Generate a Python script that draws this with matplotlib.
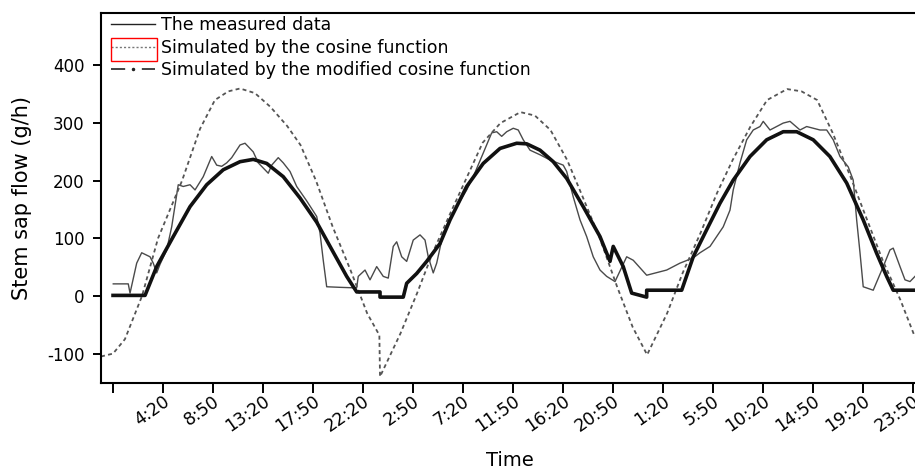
import numpy as np
from matplotlib import pyplot as plt
from matplotlib.lines import Line2D
from matplotlib.patches import Rectangle

plt.rcParams['axes.unicode_minus'] = False

# hours counted from 23:50 of the day before the first label
meas_h = [0.05, 1.40, 1.56, 2.16, 2.61, 3.36, 3.65, 3.96, 4.26, 4.86,
          5.31, 5.90, 6.35, 6.96, 7.41, 8.15, 8.91, 9.36, 9.81, 10.26,
          10.71, 11.46, 11.91, 12.65, 13.10, 13.55, 14.00, 14.31, 14.90, 15.35,
          15.96, 16.56, 17.46, 18.36, 18.66, 18.95, 19.26, 20.46, 21.96, 22.10,
          22.71, 23.16, 23.76, 24.35, 24.80, 25.25, 25.56, 26.01, 26.46, 27.05,
          27.66, 28.11, 28.40, 28.85, 29.16, 29.75, 30.36, 30.96, 31.86, 32.45,
          33.35, 34.11, 34.56, 35.01, 35.46, 36.05, 36.50, 36.95, 37.56, 38.46,
          39.36, 40.55, 40.86, 41.45, 42.06, 42.66, 43.25, 43.86, 44.46, 45.21,
          46.26, 46.85, 48.06, 49.86, 51.06, 52.25, 52.86, 53.76, 54.95, 55.56,
          55.85, 56.46, 57.06, 57.65, 58.26, 58.55, 59.16, 60.35, 60.96, 61.86,
          62.46, 63.66, 64.26, 64.85, 65.46, 66.20, 66.65, 66.96, 67.26, 67.55,
          68.45, 69.35, 69.96, 70.25, 70.86, 71.31, 71.76, 72.21]
meas_v = [21, 21, 5, 57, 75, 68, 57, 40, 55, 80,
          120, 193, 190, 193, 184, 207, 242, 227, 225, 231,
          240, 262, 265, 250, 231, 222, 213, 227, 240, 231,
          216, 190, 165, 138, 109, 62, 16, 15, 14, 34,
          45, 28, 51, 34, 31, 86, 94, 68, 60, 97,
          106, 97, 68, 40, 57, 109, 135, 155, 184, 207,
          248, 283, 285, 277, 285, 291, 288, 271, 253, 245,
          236, 227, 216, 172, 132, 103, 68, 45, 34, 25,
          68, 62, 36, 45, 57, 66, 75, 86, 120, 149,
          184, 231, 271, 288, 294, 303, 288, 300, 303, 288,
          294, 288, 288, 271, 242, 224, 201, 132, 75, 16,
          10, 51, 80, 83, 51, 28, 25, 34]

cos_h = [-1.05, 0.03, 1.1, 2.64, 4.08, 6.24, 7.86, 9.2, 10.4, 11.46,
         12.8, 14.2, 15.7, 16.9, 18.3, 19.8, 21.4, 22.3, 22.9, 24.0,
         24.06, 25.9, 27.4, 28.8, 30.4, 31.9, 33.3, 34.9, 36.7, 38.0,
         39.4, 40.9, 42.3, 43.9, 45.4, 46.8, 48.1, 49.9, 51.3, 52.9,
         54.4, 55.8, 57.4, 58.9, 60.7, 62.0, 63.4, 64.8, 66.4, 67.9,
         69.3, 70.9, 72.2]
cos_v = [-105, -100, -75, 0, 100, 200, 290, 340, 355, 360,
         352, 328, 295, 262, 200, 120, 45, 0, -30, -68,
         -140, -65, 5, 75, 144, 207, 266, 300, 319, 313,
         288, 236, 172, 97, 16, -54, -102, -30, 40, 109,
         179, 236, 294, 340, 359, 355, 340, 283, 207, 132,
         62, -7, -71]

mod_h = [0.03, 2.91, 3.96, 5.45, 6.96, 8.46, 9.95, 11.46, 12.65, 13.86,
         15.35, 16.86, 18.36, 19.85, 21.06, 21.96, 24.06, 24.06, 26.15, 26.46,
         27.36, 28.26, 29.46, 30.36, 31.86, 33.35, 34.86, 36.36, 37.26, 38.46,
         39.65, 40.86, 42.35, 43.86, 44.76, 45.05, 45.95, 46.71, 48.06, 48.06,
         51.21, 52.25, 53.46, 54.66, 55.85, 57.36, 58.86, 60.35, 61.56, 63.05,
         64.55, 66.06, 67.55, 68.76, 69.66, 70.25, 72.2]
mod_v = [1, 1, 51, 103, 155, 193, 219, 233, 237, 230,
         207, 170, 128, 76, 34, 7, 7, -2, -2, 22,
         39, 60, 91, 132, 190, 230, 256, 265, 264, 253,
         233, 204, 155, 103, 60, 86, 51, 5, -2, 10,
         10, 68, 115, 161, 201, 242, 271, 285, 285, 271,
         242, 196, 132, 74, 34, 10, 10]

tick_labels = ['', '4:20', '8:50', '13:20', '17:50', '22:20', '2:50', '7:20',
               '11:50', '16:20', '20:50', '1:20', '5:50', '10:20', '14:50',
               '19:20', '23:50']
tick_step = 4.5  # hours between labels

fig = plt.figure(figsize=(9.15, 4.71), dpi=100)
ax = fig.add_axes([101/915, 88/471, 814/915, 370/471])

ax.plot(meas_h, meas_v, color='#4a4a4a', lw=1.0)
ax.plot(cos_h, cos_v, color='#555555', lw=1.3, ls=(0, (2.2, 1.8)))
ax.plot(mod_h, mod_v, color='#111111', lw=2.6)

ax.set_xlim(-1.053, 72.21)
ax.set_ylim(-151, 491)

ax.set_xticks(np.arange(len(tick_labels)) * tick_step)
ax.set_xticklabels(tick_labels, rotation=35, ha='right', rotation_mode='anchor', fontsize=12.5)
ax.set_yticks([-100, 0, 100, 200, 300, 400])
ax.tick_params(axis='y', length=6, width=1.4, pad=6, labelsize=12)
ax.tick_params(axis='x', length=7.5, width=1.4, pad=-1)
for s in ['left', 'bottom', 'top']:
    ax.spines[s].set_linewidth(1.5)
ax.spines['right'].set_visible(False)

ax.set_ylabel('Stem sap flow (g/h)', fontsize=15)
ax.yaxis.set_label_coords(-0.085, 0.5)
ax.set_xlabel('Time', fontsize=14)
ax.xaxis.set_label_coords(0.502, -0.185)

handles = [Line2D([], [], color='#222222', lw=1.0),
           Line2D([], [], color='#777777', lw=1.0, ls=(0, (1.5, 1.5))),
           Line2D([], [], color='#222222', lw=1.2, ls=(0, (8.5, 10)), marker='.', markersize=3)]
labels = ['The measured data', 'Simulated by the cosine function',
          'Simulated by the modified cosine function']
ax.legend(handles, labels, loc='upper left', bbox_to_anchor=(0.008, 1.0), frameon=False,
          fontsize=12.5, handlelength=2.55, handletextpad=0.35, labelspacing=0.26,
          borderpad=0.1, borderaxespad=0.1)

fig.patches.append(Rectangle((111/915, 1 - 61/471), 45.7/915, 23.3/471,
                             transform=fig.transFigure, fill=False, edgecolor='red', lw=1.0))

fig.savefig('out.png', dpi=100)
